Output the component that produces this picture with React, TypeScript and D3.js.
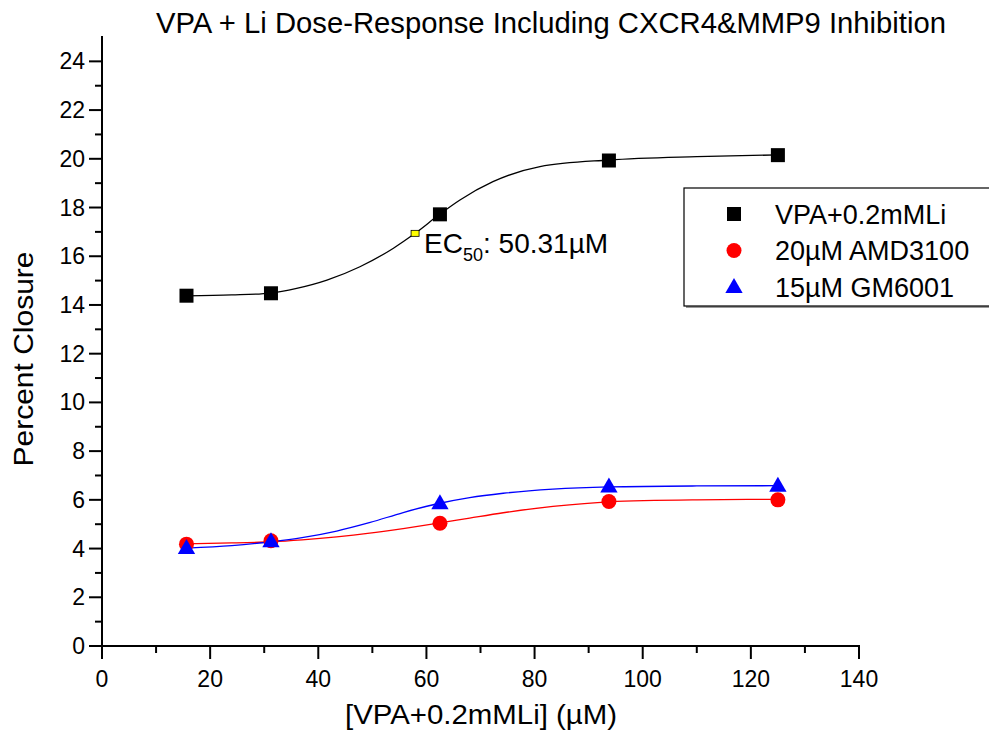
import React, { useEffect, useRef } from 'react';
import * as d3 from 'd3';

// measured points
const doses = [15.625, 31.25, 62.5, 93.75, 125];
const vpaLi = [14.38, 14.48, 17.72, 19.93, 20.15];
const amd3100 = [4.18, 4.32, 5.04, 5.93, 6.0];
const gm6001 = [4.02, 4.3, 5.86, 6.55, 6.58];

// fitted curves
const fitVpaX = [15.625, 24, 31.25, 36, 41.6, 47.7, 53.9, 57.9, 62.5, 66.2, 72.3, 81, 93.75, 110, 125];
const fitVpaY = [14.37, 14.41, 14.49, 14.68, 15.02, 15.57, 16.33, 16.94, 17.73, 18.31, 19.06, 19.68, 19.95, 20.09, 20.16];
const fitAmdX = [15.625, 24, 31.25, 37, 43.4, 49.5, 55.7, 62.5, 68, 74.2, 83.4, 93.75, 110, 125];
const fitAmdY = [4.2, 4.23, 4.28, 4.36, 4.48, 4.63, 4.82, 5.05, 5.25, 5.47, 5.73, 5.92, 6.0, 6.02];
const fitGmX = [15.625, 24, 31.25, 37, 43.4, 49.6, 55.7, 62.5, 68, 74.2, 83.4, 93.75, 110, 125];
const fitGmY = [4.02, 4.12, 4.28, 4.45, 4.72, 5.07, 5.48, 5.86, 6.09, 6.27, 6.44, 6.53, 6.57, 6.58];

const ec50 = { x: 57.9, y: 16.94, label: '50.31' };

const seriesNames = ['VPA+0.2mMLi', '20\u00b5M AMD3100', '15\u00b5M GM6001'];
const seriesColors = ['#000000', '#ff0000', '#0000ff'];

const xTicks = [0, 20, 40, 60, 80, 100, 120, 140];
const yTicks = [0, 2, 4, 6, 8, 10, 12, 14, 16, 18, 20, 22, 24];

const App = () => {
  const ref = useRef<SVGSVGElement>(null);

  useEffect(() => {
    const svg = d3.select(ref.current);
    svg.selectAll('*').remove();
    const font = 'Arial, "Liberation Sans", sans-serif';

    const x = d3.scaleLinear().domain([0, 140]).range([102, 859]);
    const y = d3.scaleLinear().domain([0, 25]).range([646, 37]);

    // title
    svg.append('text')
      .attr('x', 551).attr('y', 33)
      .attr('text-anchor', 'middle')
      .attr('font-family', font).attr('font-size', 29)
      .attr('textLength', 790).attr('lengthAdjust', 'spacingAndGlyphs')
      .text('VPA + Li Dose-Response Including CXCR4&MMP9 Inhibition');

    // axes
    const xAxis = svg.append('g').attr('transform', 'translate(0,646)');
    xAxis.append('line').attr('x1', 101).attr('x2', 860).attr('stroke', '#000').attr('stroke-width', 2);
    d3.range(0, 141, 10).forEach(v => {
      const major = v % 20 === 0;
      xAxis.append('line')
        .attr('x1', x(v)).attr('x2', x(v))
        .attr('y1', 0).attr('y2', major ? 13 : 7)
        .attr('stroke', '#000').attr('stroke-width', 2);
    });
    xAxis.selectAll('text.tick').data(xTicks).enter().append('text')
      .attr('x', d => x(d)).attr('y', 41)
      .attr('text-anchor', 'middle')
      .attr('font-family', font).attr('font-size', 23)
      .text(d => d);

    const yAxis = svg.append('g').attr('transform', 'translate(102,0)');
    yAxis.append('line').attr('y1', 36).attr('y2', 647).attr('stroke', '#000').attr('stroke-width', 2);
    d3.range(0, 25, 1).forEach(v => {
      const major = v % 2 === 0;
      yAxis.append('line')
        .attr('y1', y(v)).attr('y2', y(v))
        .attr('x1', 0).attr('x2', major ? -13 : -7)
        .attr('stroke', '#000').attr('stroke-width', 2);
    });
    yAxis.selectAll('text.tick').data(yTicks).enter().append('text')
      .attr('x', -17).attr('y', d => y(d) + 8)
      .attr('text-anchor', 'end')
      .attr('font-family', font).attr('font-size', 23)
      .text(d => d);

    // axis titles
    svg.append('text')
      .attr('transform', 'translate(33,359) rotate(-90)')
      .attr('text-anchor', 'middle')
      .attr('font-family', font).attr('font-size', 28)
      .attr('textLength', 215).attr('lengthAdjust', 'spacingAndGlyphs')
      .text('Percent Closure');
    svg.append('text')
      .attr('x', 481).attr('y', 724)
      .attr('text-anchor', 'middle')
      .attr('font-family', font).attr('font-size', 27)
      .attr('textLength', 272).attr('lengthAdjust', 'spacingAndGlyphs')
      .text('[VPA+0.2mMLi] (\u00b5M)');

    // fit curves
    const line = d3.line<[number, number]>()
      .x(d => x(d[0]))
      .y(d => y(d[1]))
      .curve(d3.curveMonotoneX);
    const fits: [number[], number[]][] = [[fitVpaX, fitVpaY], [fitAmdX, fitAmdY], [fitGmX, fitGmY]];
    fits.forEach(([fx, fy], k) => {
      svg.append('path')
        .attr('d', line(fx.map((v, i) => [v, fy[i]] as [number, number])))
        .attr('fill', 'none')
        .attr('stroke', seriesColors[k])
        .attr('stroke-width', 1.3);
    });

    const drawMarker = (g: any, k: number, cx: number, cy: number) => {
      if (k === 0) {
        g.append('rect').attr('x', cx - 7).attr('y', cy - 7).attr('width', 14).attr('height', 14).attr('fill', '#000');
      } else if (k === 1) {
        g.append('circle').attr('cx', cx).attr('cy', cy).attr('r', 7.5).attr('fill', '#ff0000');
      } else {
        const s = d3.symbol().type(d3.symbolTriangle).size(130)();
        g.append('path').attr('d', s).attr('transform', `translate(${cx},${cy + 1})`).attr('fill', '#0000ff');
      }
    };

    // data points (red, blue, then black)
    [amd3100, gm6001, vpaLi].forEach((vals, idx) => {
      const k = [1, 2, 0][idx];
      const g = svg.append('g');
      vals.forEach((v, i) => drawMarker(g, k, x(doses[i]), y(v)));
    });

    // EC50 marker + label
    svg.append('rect')
      .attr('x', x(ec50.x) - 4).attr('y', y(ec50.y) - 3)
      .attr('width', 8).attr('height', 6)
      .attr('fill', '#ffff00').attr('stroke', '#000').attr('stroke-width', 0.8);
    const ecText = svg.append('text')
      .attr('x', x(ec50.x) + 9).attr('y', y(ec50.y) + 20)
      .attr('font-family', font).attr('font-size', 28);
    ecText.append('tspan').text('EC');
    ecText.append('tspan').attr('font-size', 18).attr('dy', 8).text('50');
    ecText.append('tspan').attr('dy', -8).text(`: ${ec50.label}\u00b5M`);

    // legend
    const lg = svg.append('g').attr('transform', 'translate(684,188)');
    lg.append('rect').attr('x', 2).attr('y', 2).attr('width', 306).attr('height', 118).attr('fill', '#999');
    lg.append('rect').attr('width', 306).attr('height', 118).attr('fill', '#fff').attr('stroke', '#000').attr('stroke-width', 1.2);
    seriesNames.forEach((name, k) => {
      const ry = 26 + k * 36.5;
      drawMarker(lg, k, 50, ry);
      lg.append('text')
        .attr('x', 91).attr('y', ry + 9.5)
        .attr('font-family', font).attr('font-size', 27)
        .text(name);
    });
  }, []);

  return <svg ref={ref} width={997} height={743} style={{ display: 'block', margin: '-8px' }} />;
};

export default App;
